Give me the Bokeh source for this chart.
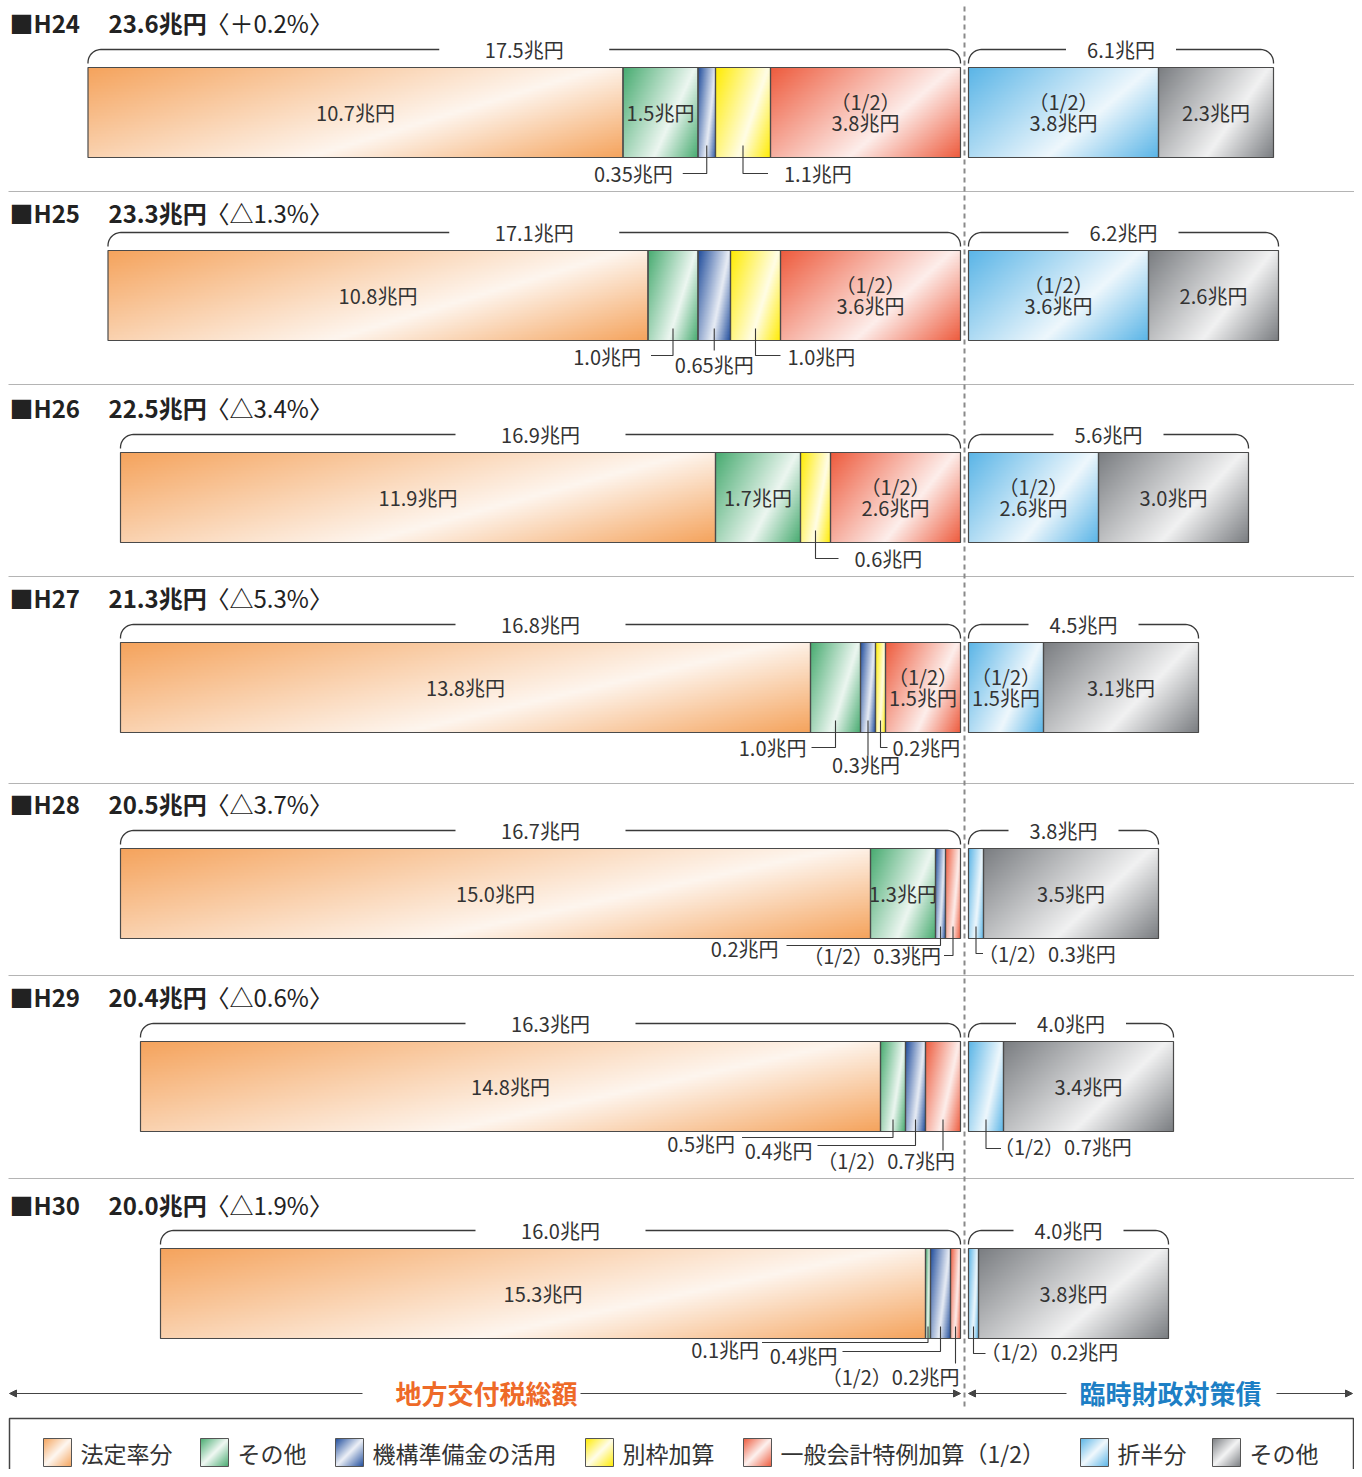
import numpy as np
from bokeh.plotting import figure
from bokeh.models import Range1d, Arrow, NormalHead
from bokeh.core.properties import value
from bokeh.embed import file_html
from bokeh.resources import INLINE

# ---------------- data ----------------
years = ["H24", "H25", "H26", "H27", "H28", "H29", "H30"]
grand_totals = [23.6, 23.3, 22.5, 21.3, 20.5, 20.4, 20.0]
pct_change = [0.2, -1.3, -3.4, -5.3, -3.7, -0.6, -1.9]
left_totals = [17.5, 17.1, 16.9, 16.8, 16.7, 16.3, 16.0]
right_totals = [6.1, 6.2, 5.6, 4.5, 3.8, 4.0, 4.0]
houtei = [10.7, 10.8, 11.9, 13.8, 15.0, 14.8, 15.3]        # 法定率分
sonota = [1.5, 1.0, 1.7, 1.0, 1.3, 0.5, 0.1]               # その他
kikou = [0.35, 0.65, 0.0, 0.3, 0.2, 0.4, 0.4]              # 機構準備金の活用
betsuwaku = [1.1, 1.0, 0.6, 0.2, 0.0, 0.0, 0.0]            # 別枠加算
tokurei = [3.8, 3.6, 2.6, 1.5, 0.3, 0.7, 0.2]              # 一般会計特例加算(1/2)
seppan = [3.8, 3.6, 2.6, 1.5, 0.3, 0.7, 0.2]               # 折半分
rinzai_sonota = [2.3, 2.6, 3.0, 3.1, 3.5, 3.4, 3.8]        # その他(臨財債)
legend_labels = ["法定率分", "その他", "機構準備金の活用", "別枠加算",
                 "一般会計特例加算（1/2）", "折半分", "その他"]
left_title = "地方交付税総額"
right_title = "臨時財政対策債"

# ---------------- styles / layout ----------------
COLORS = {
    "houtei": "#f5a35c", "sonota": "#47ab70", "kikou": "#1f4c9c",
    "betsuwaku": "#ffec00", "tokurei": "#ee5b3d", "seppan": "#5ab5e7",
    "rsonota": "#7a7d81",
}
LEFT_KEYS = ["houtei", "sonota", "kikou", "betsuwaku", "tokurei"]
RIGHT_KEYS = ["seppan", "rsonota"]
SERIES = {"houtei": houtei, "sonota": sonota, "kikou": kikou,
          "betsuwaku": betsuwaku, "tokurei": tokurei,
          "seppan": seppan, "rsonota": rinzai_sonota}
HALF = {"tokurei", "seppan"}

W, H = 1354, 1469
PX = 50.0          # pixels per 兆円
DIV = 964          # pixel of divider
GAP = 4 / PX
BAR_H = 90
bar_top = [67, 250, 452, 642, 848, 1041, 1248]
header_y = [22, 212, 407, 597, 803, 996, 1204]
sep_y = [191, 384, 576, 783, 975, 1178]
FONT = "Noto Sans CJK JP"
TXT = "#333333"
LINE = "#3a3a3a"
FS = 20


def X(ref):
    return (ref - DIV) / PX


def Y(ref):
    return 1477 - ref


p = figure(width=W, height=H, output_backend="svg", toolbar_location=None,
           x_range=Range1d(X(0), X(W)), y_range=Range1d(Y(H), Y(0)),
           min_border=0, outline_line_color=None)
p.axis.visible = False
p.grid.visible = False
p.background_fill_color = "white"
p.border_fill_color = "white"


def hex2rgb(h):
    h = h.lstrip("#")
    return np.array([int(h[i:i + 2], 16) for i in (0, 2, 4)], dtype=float)


def grad_img(color, wpx, hpx, k=0.55, tw=0.62, light=0.9):
    base = hex2rgb(color)
    white = base + (255 - base) * light
    nx = max(2, int(round(wpx)))
    ny = max(2, int(round(hpx / 3)))
    u = (np.arange(nx) + 0.5) / nx
    v = 1 - (np.arange(ny) + 0.5) / ny
    t = (u[None, :] + k * v[:, None]) / (1 + k)
    a = np.where(t < tw, t / tw, 1 - (t - tw) / (1 - tw))[..., None]
    rgb = base + (white - base) * a
    img = np.empty((ny, nx), dtype=np.uint32)
    view = img.view(dtype=np.uint8).reshape((ny, nx, 4))
    view[..., :3] = np.clip(rgb, 0, 255).astype(np.uint8)
    view[..., 3] = 255
    return img


def txt(x, y, s, size=FS, align="center", color=TXT, bold=False, baseline="middle"):
    p.text(x=[x], y=[y], text=[s], text_font=value(FONT),
           text_font_size=value(f"{size}px"),
           text_font_style=value("bold" if bold else "normal"),
           text_align=value(align), text_baseline=value(baseline),
           text_color=color)


def fmt(v):
    s = f"{v:.2f}"
    return s[:-1] if s.endswith("0") else s


# callouts: (key, line_dy, dx, text_off, text_dy, align)
callouts = {
    0: [("kikou", 16, -24, -34, 16, "right"), ("betsuwaku", 16, 25, 41, 16, "left")],
    1: [("sonota", 15, -22, -32, 16, "right"), ("kikou", 10, 0, 0, 24, "center"),
        ("betsuwaku", 15, 25, 32, 16, "left")],
    2: [("betsuwaku", 16, 23, 39, 16, "left")],
    3: [("sonota", 15, -24, -29, 15, "right"), ("kikou", 23, 0, -2, 32, "center"),
        ("betsuwaku", 15, 7, 12, 15, "left")],
    4: [("kikou", 7, -154, -162, 10, "right"), ("tokurei", 17, -9, -12, 17, "right"),
        ("seppan", 15, 7, 2, 15, "left")],
    5: [("sonota", 6, -151, -158, 12, "right"), ("kikou", 14, -98, -103, 19, "right"),
        ("tokurei", 19, 0, 12, 29, "right"), ("seppan", 17, 15, 8, 15, "left")],
    6: [("sonota", 4, -166, -169, 11, "right"), ("kikou", 13, -98, -103, 17, "right"),
        ("tokurei", 25, 0, 4, 38, "right"), ("seppan", 15, 12, 7, 13, "left")],
}

# row separators and divider
for sy in sep_y:
    p.segment(x0=[X(8)], y0=[Y(sy)], x1=[X(1354)], y1=[Y(sy)],
              line_color="#b4b4b4", line_width=1)
p.segment(x0=[0], y0=[Y(6)], x1=[0], y1=[Y(1410)], line_color="#8a8a8a",
          line_width=2, line_dash="5 4")


def brace(xl, xr, top, gap_px, label):
    yb = Y(top - 18)
    r = 13
    rx = r / PX
    th1 = np.linspace(np.pi, np.pi / 2, 12)
    th2 = np.linspace(np.pi / 2, 0, 12)
    c = (xl + xr) / 2
    lx = [xl] + list(xl + rx + rx * np.cos(th1)) + [c - gap_px / PX]
    ly = [Y(top - 4)] + list(yb - r + r * np.sin(th1)) + [yb]
    rxs = [c + gap_px / PX] + list(xr - rx + rx * np.cos(th2)) + [xr]
    rys = [yb] + list(yb - r + r * np.sin(th2)) + [Y(top - 4)]
    p.multi_line(xs=[lx, rxs], ys=[ly, rys], line_color=LINE, line_width=1.3)
    txt(c, yb, label)


for i, yr in enumerate(years):
    top = bar_top[i]
    bottom = top + BAR_H
    ymid = Y(top + BAR_H / 2)
    # header
    txt(X(9), Y(header_y[i]), "■" + yr, size=24, align="left", bold=True, color="#222222")
    txt(X(108), Y(header_y[i]), f"{grand_totals[i]:.1f}兆円", size=24, align="left",
        bold=True, color="#222222")
    sign = "＋" if pct_change[i] > 0 else "△"
    txt(X(205), Y(header_y[i]), f"〈{sign}{abs(pct_change[i]):.1f}%〉", size=24,
        align="left", color="#222222")

    centers = {}
    for part, keys in (("L", LEFT_KEYS), ("R", RIGHT_KEYS)):
        vals = [(k, SERIES[k][i]) for k in keys if SERIES[k][i] > 0]
        total = sum(v for _, v in vals)
        x = -GAP - total if part == "L" else GAP
        x_start = x
        lefts, rights = [], []
        for k, v in vals:
            img = grad_img(COLORS[k], v * PX, BAR_H)
            p.image_rgba(image=[img], x=x, y=Y(bottom), dw=v, dh=BAR_H)
            lefts.append(x)
            rights.append(x + v)
            centers[k] = x + v / 2
            if v >= 1.25:
                if k in HALF:
                    txt(x + v / 2, ymid + 11, "（1/2）")
                    txt(x + v / 2, ymid - 10, f"{fmt(v)}兆円")
                else:
                    txt(x + v / 2, ymid, f"{fmt(v)}兆円")
            x += v
        p.quad(left=lefts, right=rights, top=[Y(top)] * len(lefts),
               bottom=[Y(bottom)] * len(lefts), fill_color=None,
               line_color="#4a4a4a", line_width=1.2)
        if part == "L":
            brace(x_start, x, top, 85, f"{fmt(left_totals[i])}兆円")
        else:
            brace(x_start, x, top, 55, f"{fmt(right_totals[i])}兆円")

    # callouts
    xs, ys = [], []
    for key, ldy, dx, toff, tdy, align in callouts[i]:
        cx = centers[key]
        lx = [cx, cx]
        ly = [Y(bottom - 12), Y(bottom + ldy)]
        if dx != 0:
            lx.append(cx + dx / PX)
            ly.append(Y(bottom + ldy))
        xs.append(lx)
        ys.append(ly)
        v = SERIES[key][i]
        label = ("（1/2）" if key in HALF else "") + f"{fmt(v)}兆円"
        txt(cx + toff / PX, Y(bottom + tdy), label, align=align)
    p.multi_line(xs=xs, ys=ys, line_color=LINE, line_width=1.1)

# bottom arrows and titles
AY = Y(1393)
head = dict(size=7, line_color="#444444", fill_color="#444444", line_width=1)
for xs0, xs1 in ((362, 9), (580, 960), (1066, 968), (1276, 1352)):
    p.add_layout(Arrow(end=NormalHead(**head), x_start=X(xs0), y_start=AY,
                       x_end=X(xs1), y_end=AY, line_color="#444444", line_width=1))
txt(X(486), Y(1392), left_title, size=26, bold=True, color="#ee6a28")
txt(X(1170), Y(1392), right_title, size=26, bold=True, color="#1d7fc5")

# legend box
p.quad(left=[X(9)], right=[X(1353)], top=[Y(1418)], bottom=[Y(1490)],
       fill_color=None, line_color="#444444", line_width=1.5)
legend_keys = ["houtei", "sonota", "kikou", "betsuwaku", "tokurei", "seppan", "rsonota"]
legend_x = [43, 200, 335, 585, 743, 1080, 1212]
for k, lab, lx in zip(legend_keys, legend_labels, legend_x):
    img = grad_img(COLORS[k], 28, 84, k=1.0, tw=0.5, light=0.92)
    p.image_rgba(image=[img], x=X(lx), y=Y(1466), dw=28 / PX, dh=28)
    p.quad(left=[X(lx)], right=[X(lx + 28)], top=[Y(1438)], bottom=[Y(1466)],
           fill_color=None, line_color="#555555", line_width=1)
    txt(X(lx + 37), Y(1452), lab, size=23, align="left")

open("out.html", "w").write(file_html(p, INLINE))
